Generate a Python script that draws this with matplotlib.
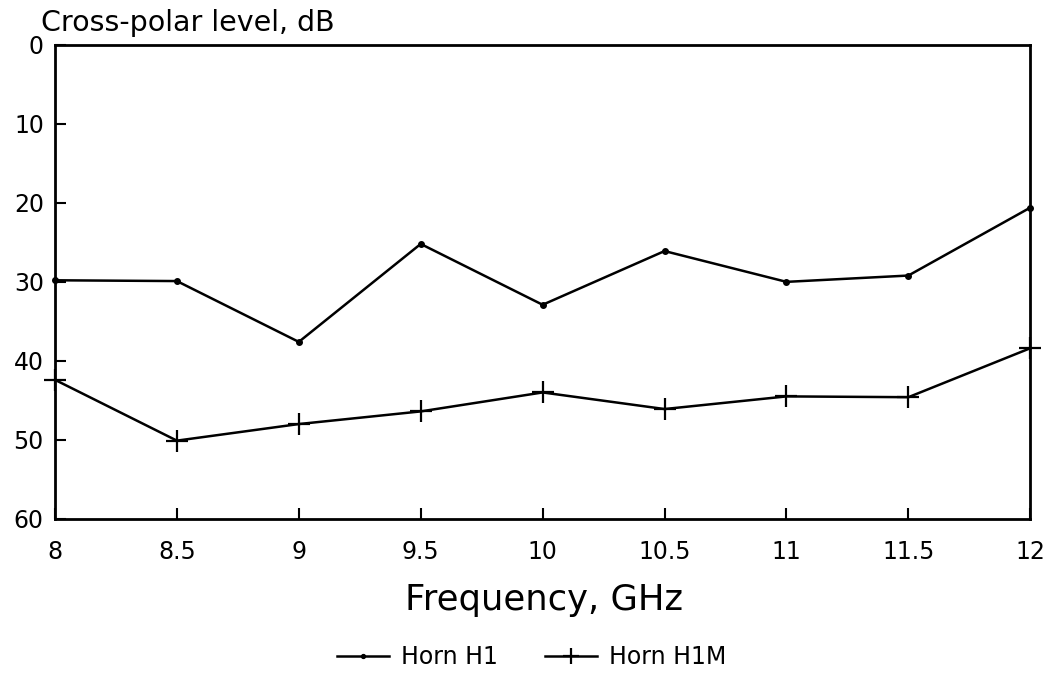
import matplotlib.pyplot as plt

plt.rcParams['font.family'] = ['DejaVu Sans']

# Data (cross-polar level, dB)
freq_ghz = [8, 8.5, 9, 9.5, 10, 10.5, 11, 11.5, 12]
horn_h1 = [29.8, 29.9, 37.6, 25.2, 32.9, 26.1, 30.0, 29.2, 20.6]
horn_h1m = [42.4, 50.1, 48.0, 46.4, 44.0, 46.1, 44.5, 44.6, 38.4]

x_ticks = [8, 8.5, 9, 9.5, 10, 10.5, 11, 11.5, 12]
x_tick_labels = ['8', '8.5', '9', '9.5', '10', '10.5', '11', '11.5', '12']
y_ticks = [0, 10, 20, 30, 40, 50, 60]

fig = plt.figure(figsize=(10.51, 6.8), dpi=100)
ax = fig.add_axes([0.0523, 0.237, 0.928, 0.697])

ax.plot(freq_ghz, horn_h1, color='black', lw=1.8, marker='o', markersize=4,
        label='Horn H1', clip_on=False)
ax.plot(freq_ghz, horn_h1m, color='black', lw=1.8, marker='+', markersize=16,
        markeredgewidth=1.6, label='Horn H1M', clip_on=False)

ax.set_xlim(8, 12)
ax.set_ylim(60, 0)
ax.set_xticks(x_ticks)
ax.set_xticklabels(x_tick_labels)
ax.set_yticks(y_ticks)

for s in ax.spines.values():
    s.set_linewidth(2)
ax.tick_params(axis='both', direction='in', length=8, width=1.5, labelsize=17)
ax.tick_params(axis='x', pad=15)
ax.tick_params(axis='y', pad=8)

fig.text(0.039, 0.966, 'Cross-polar level, dB', fontsize=20.5, va='center', ha='left')
fig.text(0.518, 0.118, 'Frequency, GHz', fontsize=25.5, va='center', ha='center')

fig.legend(loc='center', bbox_to_anchor=(0.506, 0.034), ncol=2, frameon=False,
           fontsize=17, handlelength=2.2, columnspacing=2.0, handletextpad=0.5,
           markerscale=0.7)

fig.savefig('out.png', dpi=100)
